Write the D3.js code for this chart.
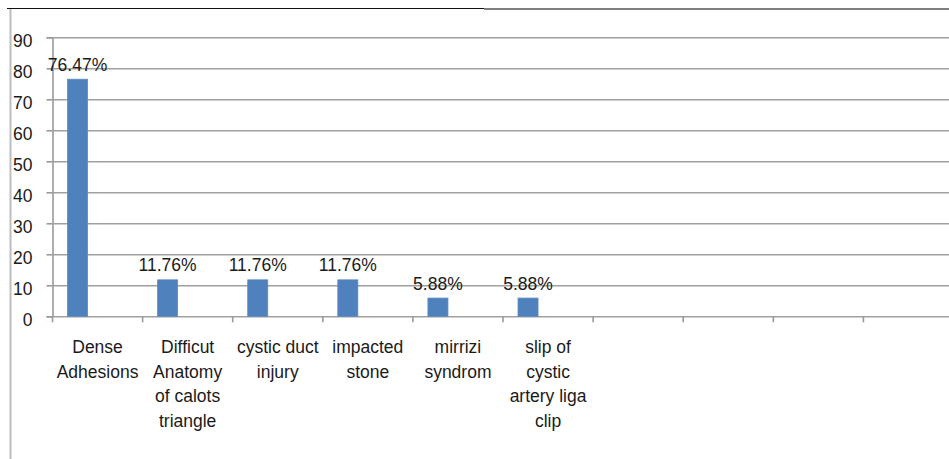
<!DOCTYPE html>
<html>
<head>
<meta charset="utf-8">
<script src="https://cdn.jsdelivr.net/npm/d3@7"></script>
<style>
  html, body { margin: 0; padding: 0; background: #fff; }
  svg { display: block; font-family: "Liberation Sans", Arial, sans-serif; }
</style>
</head>
<body>
<svg id="chart"></svg>
<script>
// categories (with their line breaks as shown under the axis)
const categories = [
    "Dense Adhesions",
    "Difficut Anatomy of calots triangle",
    "cystic duct injury",
    "impacted stone",
    "mirrizi syndrom",
    "slip of cystic artery liga clip",
    "", "", "", ""
];
const categoryLines = [
    ["Dense", "Adhesions"],
    ["Difficut", "Anatomy", "of calots", "triangle"],
    ["cystic duct", "injury"],
    ["impacted", "stone"],
    ["mirrizi", "syndrom"],
    ["slip of", "cystic", "artery liga", "clip"],
    [], [], [], []
];
const series = ["Series1", "Series2", "Series3"];
const values = [76.47, 11.76, 11.76, 11.76, 5.88, 5.88];
const valueLabels = ["76.47%", "11.76%", "11.76%", "11.76%", "5.88%", "5.88%"];
const yTicks = [0, 10, 20, 30, 40, 50, 60, 70, 80, 90];

const width = 949;
const height = 459;
const marginLeft = 52.5;
const marginTop = 37.3;
const plotBottom = 316.3;

const svg = d3.select("#chart")
    .attr("width", width)
    .attr("height", height);

// outer frame bits
svg.append("line")
    .attr("x1", 7).attr("x2", 484).attr("y1", 8.5).attr("y2", 8.5)
    .attr("stroke", "#111").attr("stroke-width", 1.2);
svg.append("line")
    .attr("x1", 484).attr("x2", width).attr("y1", 9).attr("y2", 9)
    .attr("stroke", "#808080").attr("stroke-width", 2);
svg.append("line")
    .attr("x1", 10.5).attr("x2", 10.5).attr("y1", 9).attr("y2", height)
    .attr("stroke", "#bdbdbd").attr("stroke-width", 2);

const x = d3.scaleBand()
    .domain(d3.range(categories.length))
    .range([marginLeft, marginLeft + 90.1 * categories.length])
    .padding(0);

const xs = d3.scaleBand()
    .domain(series)
    .range([0, x.bandwidth()])
    .paddingInner(0)
    .paddingOuter(0.75);

const y = d3.scaleLinear()
    .domain([0, 90])
    .range([plotBottom, marginTop]);

// y axis with gridlines
svg.append("g")
    .attr("transform", `translate(${marginLeft},0)`)
    .call(d3.axisLeft(y).tickValues(yTicks).tickSize(6).tickPadding(14))
    .call(g => g.select(".domain").attr("stroke", "#9a9a9a").attr("stroke-width", 1.6))
    .call(g => g.selectAll(".tick line").attr("stroke", "#9a9a9a").attr("stroke-width", 1.6))
    .call(g => g.selectAll(".tick line").clone()
        .attr("x2", width - marginLeft)
        .attr("stroke", "#a0a0a0")
        .attr("stroke-width", 1.6))
    .call(g => g.selectAll(".tick text")
        .attr("font-size", 17.5)
        .attr("dy", "0.55em")
        .attr("fill", "#1a1a1a")
        .attr("font-family", "Liberation Sans, Arial, sans-serif"));

// x axis
const xTickPos = d3.range(categories.length + 1).map(i => marginLeft + i * x.step());
svg.append("g")
    .selectAll("line")
    .data(xTickPos)
    .join("line")
    .attr("x1", d => d).attr("x2", d => d)
    .attr("y1", plotBottom).attr("y2", plotBottom + 6)
    .attr("stroke", "#9a9a9a")
    .attr("stroke-width", 1.6);

// bars
svg.append("g")
    .selectAll("rect")
    .data(values)
    .join("rect")
    .attr("x", (d, i) => x(i) + xs("Series1"))
    .attr("y", d => y(d))
    .attr("width", xs.bandwidth())
    .attr("height", d => y(0) - y(d))
    .attr("fill", "#4f81bd")
    .attr("stroke", "#5a8ac4")
    .attr("stroke-width", 0.8);

// value labels
svg.append("g")
    .selectAll("text")
    .data(values)
    .join("text")
    .attr("x", (d, i) => x(i) + xs("Series1") + xs.bandwidth() / 2)
    .attr("y", d => y(d) - 8.5)
    .attr("text-anchor", "middle")
    .attr("font-size", 17.5)
    .attr("fill", "#1a1a1a")
    .text((d, i) => valueLabels[i]);

// category labels
const catG = svg.append("g")
    .selectAll("text")
    .data(categoryLines)
    .join("text")
    .attr("text-anchor", "middle")
    .attr("font-size", 17.5)
    .attr("fill", "#1a1a1a");

catG.selectAll("tspan")
    .data((d, i) => d.map(line => ({ line, i })))
    .join("tspan")
    .attr("x", d => x(d.i) + x.bandwidth() / 2)
    .attr("y", (d, j) => 353 + j * 24.7)
    .text(d => d.line);
</script>
</body>
</html>
